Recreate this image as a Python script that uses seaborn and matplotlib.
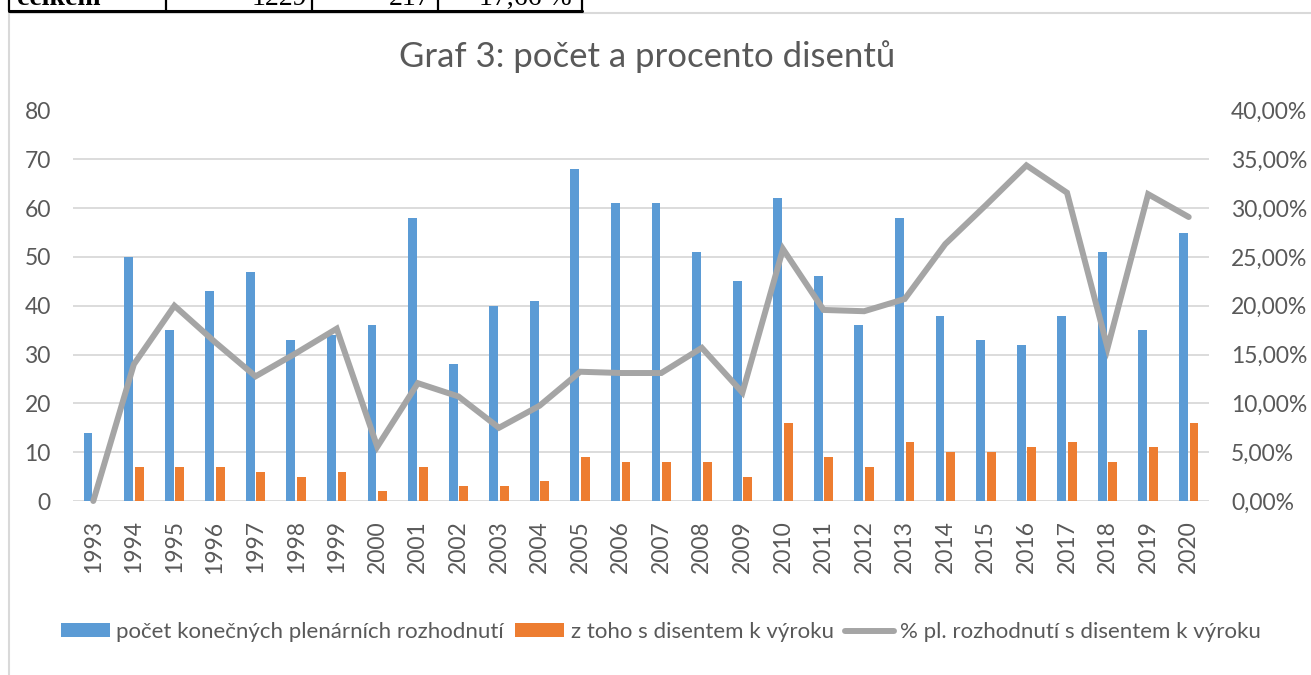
import matplotlib
matplotlib.use("Agg")
import matplotlib.pyplot as plt
import matplotlib.ticker as mticker
from matplotlib.patches import Patch
from matplotlib.lines import Line2D
import seaborn as sns
import pandas as pd

years = [str(y) for y in range(1993, 2021)]
plenary = [14, 50, 35, 43, 47, 33, 34, 36, 58, 28, 40, 41, 68, 61, 61, 51, 45,
           62, 46, 36, 58, 38, 33, 32, 38, 51, 35, 55]
dissent = [0, 7, 7, 7, 6, 5, 6, 2, 7, 3, 3, 4, 9, 8, 8, 8, 5,
           16, 9, 7, 12, 10, 10, 11, 12, 8, 11, 16]
pct = [0.0, 14.0, 20.0, 16.28, 12.77, 15.15, 17.65, 5.56, 12.07, 10.71, 7.5, 9.76,
       13.24, 13.11, 13.11, 15.69, 11.11, 25.81, 19.57, 19.44, 20.69, 26.32,
       30.3, 34.38, 31.58, 15.69, 31.43, 29.09]

s_bar1 = "počet konečných plenárních rozhodnutí"
s_bar2 = "z toho s disentem k výroku"
s_line = "% pl. rozhodnutí s disentem k výroku"
title = "Graf 3: počet a procento disentů"
table_row = ["celkem", "1229", "217", "17,66 %"]

BLUE = "#5B9BD5"
ORANGE = "#ED7D31"
GRAY = "#A5A5A5"
TXT = "#595959"
GRID = "#D9D9D9"

sns.set_theme(style="white")
plt.rcParams["font.family"] = ["Lato", "DejaVu Sans"]

W, H = 1311, 675
fig = plt.figure(figsize=(W / 100, H / 100), dpi=100)

# chart frame
fig.add_artist(Line2D([8.5 / W, 8.5 / W], [0, 1 - 12 / H], color=GRID, lw=1.5))
fig.add_artist(Line2D([8.5 / W, 1], [1 - 12.5 / H, 1 - 12.5 / H], color=GRID, lw=1.5))

# table fragment at top
tab_x = [9, 166, 312, 438, 582]
fig.add_artist(Line2D([tab_x[0] / W, tab_x[-1] / W], [1 - 10.5 / H, 1 - 10.5 / H], color="black", lw=2.2))
for xv in tab_x:
    fig.add_artist(Line2D([xv / W, xv / W], [1 - 11 / H, 1], color="black", lw=1.6))
fig.text(17 / W, 1 - 5 / H, table_row[0], family="Liberation Serif", weight="bold",
         fontsize=20, ha="left", va="baseline", color="black")
for txt, xr in zip(table_row[1:], [307, 430, 572]):
    fig.text(xr / W, 1 - 5 / H, txt, family="Liberation Serif", fontsize=20,
             ha="right", va="baseline", color="black")

ax = fig.add_axes([73 / W, 1 - 501 / H, (1209 - 73) / W, (501 - 110.5) / H])

df = pd.DataFrame({
    "year": years * 2,
    "value": plenary + dissent,
    "series": [s_bar1] * len(years) + [s_bar2] * len(years),
})
sns.barplot(data=df, x="year", y="value", hue="series", order=years,
            hue_order=[s_bar1, s_bar2], palette=[BLUE, ORANGE], width=0.52,
            gap=0.15, saturation=1, legend=False, ax=ax, linewidth=0)

ax.set_ylim(0, 80)
ax.set_xlim(-0.5, len(years) - 0.5)
ax.set_yticks(range(0, 81, 10))
ax.yaxis.grid(True, color=GRID, lw=1.3)
ax.set_axisbelow(True)
for s in ax.spines.values():
    s.set_visible(False)
ax.set_xlabel("")
ax.set_ylabel("")
ax.tick_params(axis="y", length=0, pad=16, labelsize=16.5, labelcolor=TXT)
ax.tick_params(axis="x", length=0, pad=14, labelsize=16.5, labelcolor=TXT, rotation=90)

ax2 = ax.twinx()
sns.lineplot(x=list(range(len(years))), y=pct, color=GRAY, lw=4.3, ax=ax2,
             clip_on=False, solid_joinstyle="miter")
ax2.set_ylim(0, 40)
ax2.set_yticks(range(0, 41, 5))
ax2.yaxis.set_major_formatter(mticker.FuncFormatter(lambda v, p: f"{v:.2f}%".replace(".", ",")))
for s in ax2.spines.values():
    s.set_visible(False)
ax2.tick_params(axis="y", length=0, pad=16, labelsize=16.5, labelcolor=TXT)
ax2.grid(False)

fig.text(647 / W, 1 - 57 / H, title, ha="center", va="center", fontsize=25, color=TXT)

handles = [Patch(facecolor=BLUE, edgecolor="none"),
           Patch(facecolor=ORANGE, edgecolor="none"),
           Line2D([], [], color=GRAY, lw=4.3)]
fig.legend(handles, [s_bar1, s_bar2, s_line], loc="center", ncol=3,
           bbox_to_anchor=(661 / W, 1 - 632 / H), frameon=False, fontsize=16,
           handlelength=2.2, handleheight=0.6, handletextpad=0.3, columnspacing=0.5,
           labelcolor=TXT)

fig.savefig("out.png", dpi=100)
